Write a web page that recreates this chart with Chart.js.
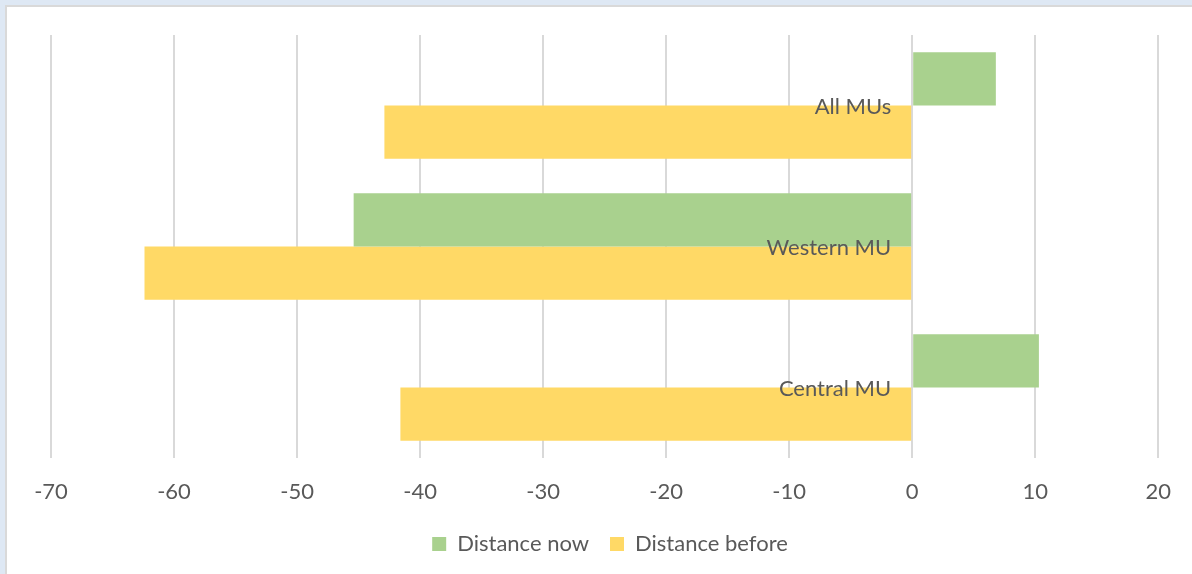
<!DOCTYPE html>
<html>
<head>
<meta charset="utf-8">
<script src="https://cdn.jsdelivr.net/npm/chart.js@4/dist/chart.umd.min.js"></script>
<style>
  html, body { margin: 0; padding: 0; background: #dee8f4; overflow: hidden; }
  #frame { position: absolute; left: 5px; top: 5px; width: 1300px; height: 700px; background: #fff; border: 2px solid #d9d9d9; }
  #grafico { position: absolute; left: 0; top: 0; }
</style>
</head>
<body>
<div id="frame"></div>
<canvas id="grafico" width="1192" height="574"></canvas>
<script>
const categorias = ["All MUs", "Western MU", "Central MU"];
const distanciaAgora = [6.8, -45.4, 10.3];
const distanciaAntes = [-42.9, -62.4, -41.6];
const xMin = -70;
const xMax = 20;
const passo = 10;

const corTexto = "#595959";
const fonte = "Lato, 'Open Sans', sans-serif";

// rótulos das categorias ficam junto do eixo no zero, como no Excel
const rotulosNoZero = {
    id: "rotulosNoZero",
    afterDatasetsDraw(chart) {
        const ctx = chart.ctx;
        const xs = chart.scales.x;
        const ys = chart.scales.y;
        const x0 = xs.getPixelForValue(0);
        ctx.save();
        ctx.font = "22px " + fonte;
        ctx.fillStyle = corTexto;
        ctx.textAlign = "right";
        ctx.textBaseline = "middle";
        categorias.forEach((nome, i) => {
            ctx.fillText(nome, x0 - 21, ys.getPixelForValue(i) + 1);
        });
        ctx.restore();
    },
};

document.addEventListener("DOMContentLoaded", function () {
    const graficoCanvas = document.getElementById("grafico");

    const data = {
        labels: categorias,
        datasets: [
            {
                label: "Distance now",
                data: distanciaAgora,
                backgroundColor: "#a9d18e",
            },
            {
                label: "Distance before",
                data: distanciaAntes,
                backgroundColor: "#ffd966",
            },
        ],
    };

    const config = {
        type: "bar",
        data: data,
        options: {
            indexAxis: "y",
            responsive: false,
            animation: false,
            categoryPercentage: 0.755,
            barPercentage: 1.0,
            layout: {
                padding: { left: 51, right: 23, top: 35, bottom: 9 },
            },
            scales: {
                x: {
                    min: xMin,
                    max: xMax,
                    ticks: {
                        stepSize: passo,
                        padding: 21,
                        color: corTexto,
                        font: { family: fonte, size: 22 },
                    },
                    grid: { color: "#d9d9d9", lineWidth: 2, drawTicks: false },
                    border: { display: false },
                    afterFit: (s) => { s.height = 54; },
                },
                y: {
                    display: false,
                },
            },
            plugins: {
                legend: {
                    position: "bottom",
                    labels: {
                        color: corTexto,
                        font: { family: fonte, size: 22 },
                        boxWidth: 14,
                        boxHeight: 14,
                        padding: 21,
                    },
                },
                tooltip: { enabled: false },
            },
        },
        plugins: [rotulosNoZero],
    };

    new Chart(graficoCanvas, config);
});
</script>
</body>
</html>
